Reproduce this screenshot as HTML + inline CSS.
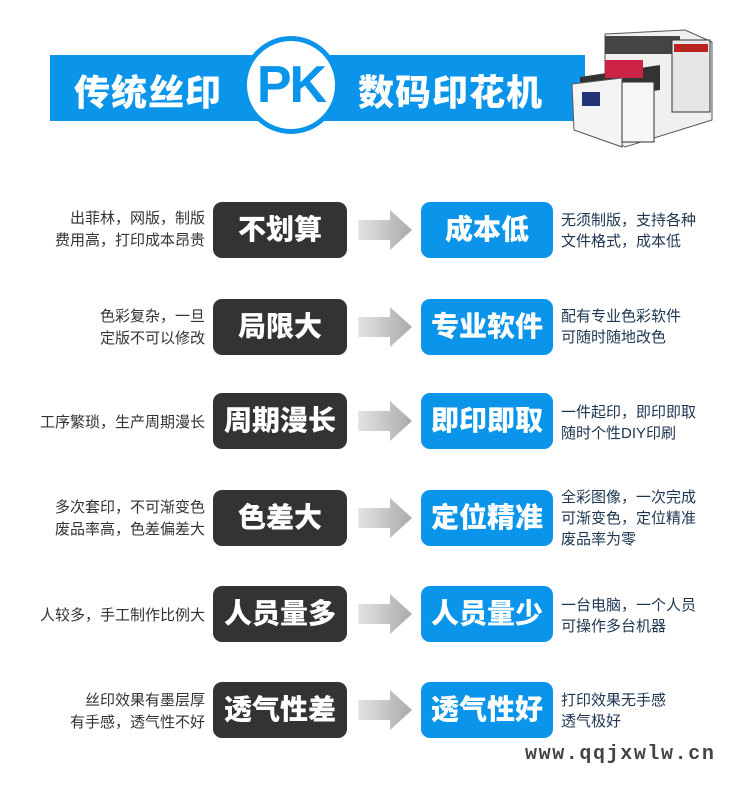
<!DOCTYPE html>
<html><head><meta charset="utf-8"><style>
*{margin:0;padding:0;box-sizing:border-box}
body{width:750px;height:795px;background:#fff;position:relative;overflow:hidden;font-family:"Liberation Sans","Noto Sans CJK SC",sans-serif}
.a{position:absolute}
.banner{left:50px;top:55px;width:535px;height:66px;background:#0b95ea}
.bt{color:#fff;font-weight:900;font-size:36px;top:64px;letter-spacing:1px}
.circle{left:242px;top:36px;width:98px;height:98px;border-radius:50%;background:#fff;border:5px solid #0b95ea;}
.pk{left:242px;top:36px;width:98px;height:98px;line-height:98px;text-align:center;color:#0b95ea;font-weight:900;font-size:52px;letter-spacing:-2px}
.dk,.bl{height:56px;border-radius:9px;color:#fff;font-weight:900;font-size:28px;text-align:center;line-height:56px}
.dk{left:213px;width:134px;background:#333}
.bl{left:421px;width:132px;background:#0b95ea}
.lt{right:545px;text-align:right;font-size:15px;color:#333;line-height:22px}
.rt{left:561px;font-size:15px;color:#1d3550;line-height:21px}
.arr{left:358px;width:54px;height:40px}
</style></head><body>
<div class="a banner"></div>
<div class="a bt" style="left:74px">传统丝印</div>
<div class="a bt" style="left:358px">数码印花机</div>
<div class="a circle"></div>
<div class="a pk">PK</div>
<svg class="a" style="left:560px;top:22px" width="165" height="128">
<polygon points="45,12 125,8 152,20 152,98 65,125 45,112" fill="#f0f0f0" stroke="#555"/>
<rect x="45" y="14" width="75" height="18" fill="#444"/>
<rect x="112" y="18" width="38" height="72" fill="#e6e6e6" stroke="#333"/>
<rect x="114" y="22" width="34" height="8" fill="#b22"/>
<polygon points="20,55 100,43 100,68 20,80" fill="#333"/>
<rect x="45" y="38" width="38" height="18" fill="#c24"/>
<polygon points="12,62 62,56 62,125 14,108" fill="#f4f4f4" stroke="#555"/>
<rect x="22" y="70" width="18" height="14" fill="#237"/>
<rect x="62" y="60" width="32" height="60" fill="#f6f6f6" stroke="#333"/>
</svg>

<div class="a lt" style="top:208px">出菲林，网版，制版<br>费用高，打印成本昂贵</div>
<div class="a dk" style="top:202px">不划算</div>
<div class="a bl" style="top:202px">成本低</div>
<div class="a rt" style="top:210px">无须制版，支持各种<br>文件格式，成本低</div>

<div class="a lt" style="top:306px">色彩复杂，一旦<br>定版不可以修改</div>
<div class="a dk" style="top:299px">局限大</div>
<div class="a bl" style="top:299px">专业软件</div>
<div class="a rt" style="top:306px">配有专业色彩软件<br>可随时随地改色</div>

<div class="a lt" style="top:412px">工序繁琐，生产周期漫长</div>
<div class="a dk" style="top:393px">周期漫长</div>
<div class="a bl" style="top:393px">即印即取</div>
<div class="a rt" style="top:402px">一件起印，即印即取<br>随时个性DIY印刷</div>

<div class="a lt" style="top:497px">多次套印，不可渐变色<br>废品率高，色差偏差大</div>
<div class="a dk" style="top:490px">色差大</div>
<div class="a bl" style="top:490px">定位精准</div>
<div class="a rt" style="top:487px">全彩图像，一次完成<br>可渐变色，定位精准<br>废品率为零</div>

<div class="a lt" style="top:605px">人较多，手工制作比例大</div>
<div class="a dk" style="top:586px">人员量多</div>
<div class="a bl" style="top:586px">人员量少</div>
<div class="a rt" style="top:595px">一台电脑，一个人员<br>可操作多台机器</div>

<div class="a lt" style="top:690px">丝印效果有墨层厚<br>有手感，透气性不好</div>
<div class="a dk" style="top:682px">透气性差</div>
<div class="a bl" style="top:682px">透气性好</div>
<div class="a rt" style="top:690px">打印效果无手感<br>透气极好</div>

<svg width="0" height="0" style="position:absolute"><defs><linearGradient id="g" x1="0" x2="1"><stop offset="0" stop-color="#e4e4e4"/><stop offset="1" stop-color="#a9a9a9"/></linearGradient></defs></svg>
<svg class="a arr" style="top:210px" viewBox="0 0 54 40"><polygon points="0,10 32,10 32,0 54,20 32,40 32,30 0,30" fill="url(#g)"/></svg>
<svg class="a arr" style="top:307px" viewBox="0 0 54 40"><polygon points="0,10 32,10 32,0 54,20 32,40 32,30 0,30" fill="url(#g)"/></svg>
<svg class="a arr" style="top:401px" viewBox="0 0 54 40"><polygon points="0,10 32,10 32,0 54,20 32,40 32,30 0,30" fill="url(#g)"/></svg>
<svg class="a arr" style="top:498px" viewBox="0 0 54 40"><polygon points="0,10 32,10 32,0 54,20 32,40 32,30 0,30" fill="url(#g)"/></svg>
<svg class="a arr" style="top:594px" viewBox="0 0 54 40"><polygon points="0,10 32,10 32,0 54,20 32,40 32,30 0,30" fill="url(#g)"/></svg>
<svg class="a arr" style="top:690px" viewBox="0 0 54 40"><polygon points="0,10 32,10 32,0 54,20 32,40 32,30 0,30" fill="url(#g)"/></svg>

<div class="a" style="left:525px;top:743px;font-family:'Liberation Mono',monospace;font-weight:bold;font-size:20px;letter-spacing:1.6px;color:#444">www.qqjxwlw.cn</div>
</body></html>
